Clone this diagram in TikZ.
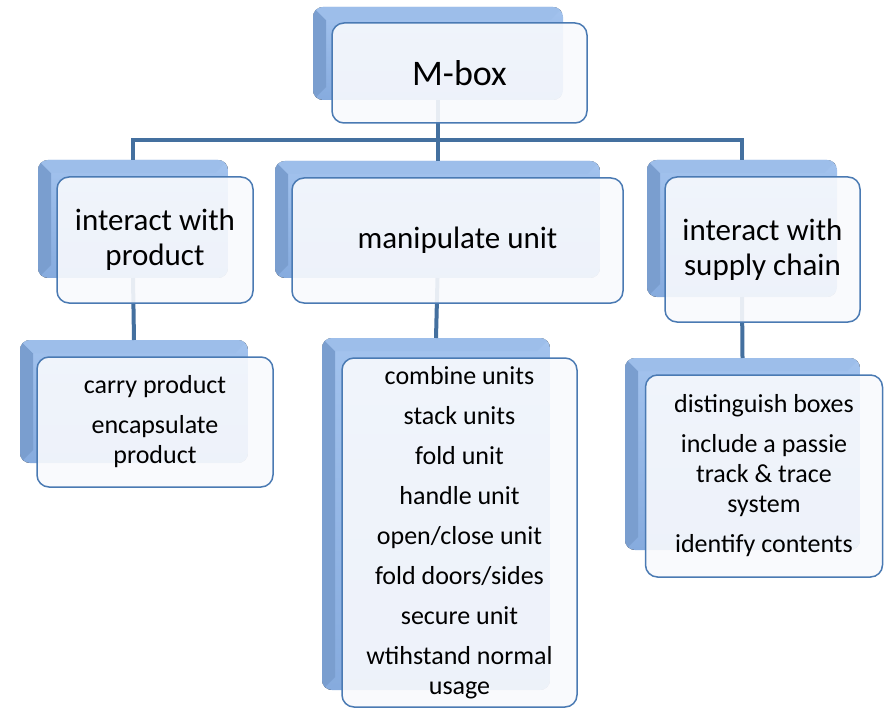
\documentclass[tikz,border=0pt]{standalone}
\usepackage{fontspec}
\setmainfont{Carlito}
\usetikzlibrary{fit}
\definecolor{conn}{HTML}{44709F}
\definecolor{bord}{HTML}{4A7AB3}
\definecolor{shtop}{HTML}{A3C3EE}
\definecolor{shbot}{HTML}{86ABDE}
\definecolor{shleft}{HTML}{7A9ECF}
\definecolor{shtopb}{HTML}{9DBEEA}
\definecolor{frontfill}{HTML}{F9FAFD}
\newcommand\mkshadow[5]{%
  \node[inner sep=0pt, outer sep=0pt, fit={(#2,#3)(#4,#5)}] (#1) {};
  \begin{scope}
    \clip[rounded corners=10pt] (#2,#3) rectangle (#4,#5);
    \fill[top color=shtop, bottom color=shbot] (#2,#3) rectangle (#4,#5);
    \fill[shleft] (#2,#3) -- (#2+13,#3+13) -- (#2+13,#5-13) -- (#2,#5) -- cycle;
    \fill[shtopb] (#2,#3) -- (#4,#3) -- (#4-13,#3+13) -- (#2+13,#3+13) -- cycle;
  \end{scope}}
\tikzset{
  front/.style={draw=bord, line width=1.5pt, fill=frontfill, fill opacity=0.9,
    text opacity=1, rounded corners=12pt, align=center, inner sep=0pt, text=black},
  big/.style={font=\fontsize{36}{40}\selectfont},
  mid/.style={font=\fontsize{31}{35}\selectfont},
  small/.style={font=\fontsize{26}{30}\selectfont},
  connector/.style={draw=conn, line width=4pt}
}
\begin{document}
\begin{tikzpicture}[x=1pt,y=-1pt]
\useasboundingbox (0,0) rectangle (885,708);
\fill[white] (0,0) rectangle (885,708);
% shadows
\mkshadow{msh}{313}{7}{563}{100}
\mkshadow{ash}{38}{160}{228}{278}
\mkshadow{bsh}{275}{161}{600}{278}
\mkshadow{csh}{647}{160}{837}{297}
\mkshadow{dsh}{20}{340}{248}{463}
\mkshadow{esh}{322}{338}{550}{690}
\mkshadow{fsh}{625}{358}{860}{550}
% connectors
\coordinate (bus) at (0,140);
\draw[connector] (msh.south) -- (msh.south |- bus) -| (ash.north);
\draw[connector] (msh.south |- bus) -| (bsh.north);
\draw[connector] (msh.south |- bus) -| (csh.north);
\draw[connector] (ash.south) -- (dsh.north);
\draw[connector] (bsh.south) -- (esh.north);
\draw[connector] (csh.south) -- (fsh.north);
% front boxes
\node[front, big, minimum width=255pt, minimum height=100pt] (m) at (459.5,73) {M-box};
\node[front, mid, minimum width=196pt, minimum height=126pt] (a) at (155,240) {interact with\\product};
\node[front, mid, minimum width=331pt, minimum height=125pt] (b) at (457.5,240.5) {manipulate unit};
\node[front, mid, minimum width=195pt, minimum height=145pt] (c) at (762.5,249.5) {interact with\\supply chain};
\node[front, small, minimum width=236pt, minimum height=130pt] (d) at (155,422) {carry product\\[10pt]encapsulate\\product};
\node[front, small, minimum width=235pt, minimum height=349pt] (e) at (459.5,532.5) {combine units\\[10pt]stack units\\[10pt]fold unit\\[10pt]handle unit\\[10pt]open/close unit\\[10pt]fold doors/sides\\[10pt]secure unit\\[10pt]wtihstand normal\\usage};
\node[front, small, minimum width=237pt, minimum height=202pt] (f) at (764,476) {distinguish boxes\\[10pt]include a passie\\track \& trace\\system\\[10pt]identify contents};
\end{tikzpicture}
\end{document}
